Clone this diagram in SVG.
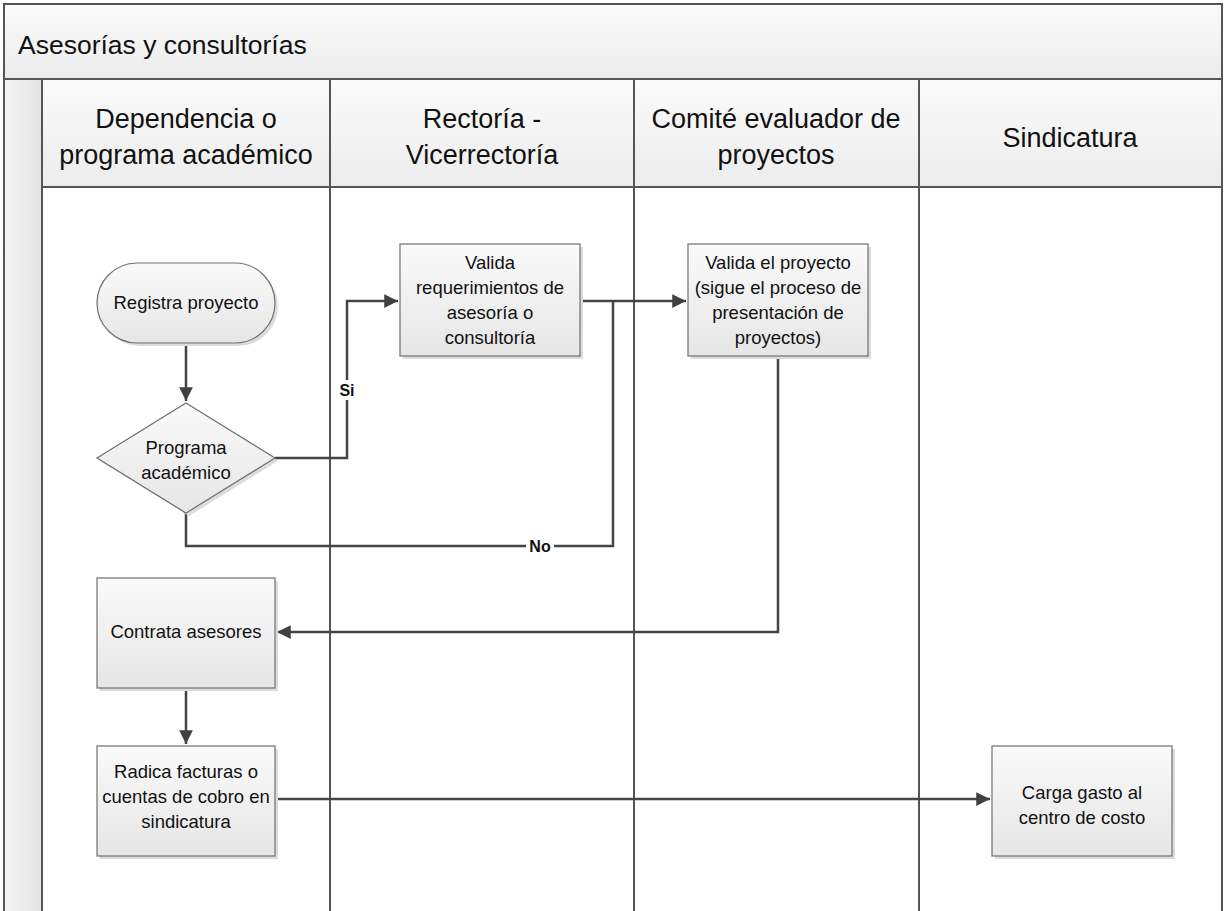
<svg xmlns="http://www.w3.org/2000/svg" width="1226" height="911" viewBox="0 0 1226 911">
<defs>
<linearGradient id="gBox" x1="0" y1="0" x2="0" y2="1"><stop offset="0" stop-color="#fafafa"/><stop offset="1" stop-color="#e6e6e6"/></linearGradient>
<linearGradient id="gHead" x1="0" y1="0" x2="0" y2="1"><stop offset="0" stop-color="#fbfbfb"/><stop offset="1" stop-color="#ececec"/></linearGradient>
<linearGradient id="gStrip" x1="0" y1="0" x2="1" y2="0"><stop offset="0" stop-color="#f4f4f4"/><stop offset="1" stop-color="#e4e4e4"/></linearGradient>
<marker id="arr" viewBox="0 0 10 10" refX="10" refY="5" markerWidth="5.5" markerHeight="5.5" orient="auto" markerUnits="strokeWidth"><path d="M0,0 L10,5 L0,10 z" fill="#404040"/></marker>
</defs>
<style>
.lane{stroke:#555;stroke-width:2;fill:none}
.box{fill:url(#gBox);stroke:#707070;stroke-width:1.2}
.shadow{fill:#dcdcdc}
.t{font-family:"Liberation Sans",Arial,sans-serif;font-size:18.5px;fill:#111;text-anchor:middle}
.h{font-family:"Liberation Sans",Arial,sans-serif;font-size:27px;fill:#111;text-anchor:middle}
.title{font-family:"Liberation Sans",Arial,sans-serif;font-size:26.5px;fill:#111}
.c{fill:none;stroke:#444;stroke-width:2.5}
.lbl{font-family:"Liberation Sans",Arial,sans-serif;font-size:16px;font-weight:bold;fill:#111;text-anchor:middle}
</style>
<rect width="1226" height="911" fill="#fff"/>
<g id="pool">
<rect x="4" y="4" width="1218" height="75" fill="url(#gHead)"/>
<rect x="4" y="79" width="38" height="832" fill="url(#gStrip)"/>
<rect x="42" y="79" width="1180" height="108" fill="url(#gHead)"/>
<text class="title" x="18" y="54">Asesorías y consultorías</text>
<path class="lane" d="M4,911 V4 H1222 V911 M4,79 H1222 M42,187 H1222 M42,79 V911 M330,79 V911 M634,79 V911 M919,79 V911"/>
<text class="h" x="186" y="128">Dependencia o</text>
<text class="h" x="186" y="164">programa académico</text>
<text class="h" x="482" y="128">Rectoría -</text>
<text class="h" x="482" y="164">Vicerrectoría</text>
<text class="h" x="776" y="128">Comité evaluador de</text>
<text class="h" x="776" y="164">proyectos</text>
<text class="h" x="1070" y="147">Sindicatura</text>
</g>
<g id="connectors">
<path class="c" d="M186,343 V401" marker-end="url(#arr)"/>
<path class="c" d="M275,458 H347 V301 H398" marker-end="url(#arr)"/>
<path class="c" d="M580,301 H686" marker-end="url(#arr)"/>
<path class="c" d="M186,513 V546 H613 V301"/>
<path class="c" d="M778,356 V632 H277" marker-end="url(#arr)"/>
<path class="c" d="M186,688 V744" marker-end="url(#arr)"/>
<path class="c" d="M275,799 H990" marker-end="url(#arr)"/>
<rect x="338" y="380" width="18" height="20" fill="#fff"/>
<text class="lbl" x="347" y="396">Si</text>
<rect x="526" y="537" width="28" height="18" fill="#fff"/>
<text class="lbl" x="540" y="552">No</text>
</g>
<g id="n1">
<rect class="shadow" x="100" y="266" width="178" height="80" rx="40"/>
<rect class="box" x="97" y="263" width="178" height="80" rx="40"/>
<text class="t" x="186" y="309">Registra proyecto</text>
</g>
<g id="n2">
<path class="shadow" d="M189,406 L278,461 L189,516 L100,461 z"/>
<path class="box" d="M186,403 L275,458 L186,513 L97,458 z"/>
<text class="t" x="186" y="454">Programa</text>
<text class="t" x="186" y="479">académico</text>
</g>
<g id="n3">
<rect class="shadow" x="403" y="247" width="180" height="112"/>
<rect class="box" x="400" y="244" width="180" height="112"/>
<text class="t" x="490" y="269">Valida</text>
<text class="t" x="490" y="294">requerimientos de</text>
<text class="t" x="490" y="319">asesoría o</text>
<text class="t" x="490" y="344">consultoría</text>
</g>
<g id="n4">
<rect class="shadow" x="691" y="247" width="180" height="112"/>
<rect class="box" x="688" y="244" width="180" height="112"/>
<text class="t" x="778" y="269">Valida el proyecto</text>
<text class="t" x="778" y="294">(sigue el proceso de</text>
<text class="t" x="778" y="319">presentación de</text>
<text class="t" x="778" y="344">proyectos)</text>
</g>
<g id="n5">
<rect class="shadow" x="100" y="581" width="178" height="110"/>
<rect class="box" x="97" y="578" width="178" height="110"/>
<text class="t" x="186" y="638">Contrata asesores</text>
</g>
<g id="n6">
<rect class="shadow" x="100" y="749" width="178" height="110"/>
<rect class="box" x="97" y="746" width="178" height="110"/>
<text class="t" x="186" y="778">Radica facturas o</text>
<text class="t" x="186" y="803">cuentas de cobro en</text>
<text class="t" x="186" y="828">sindicatura</text>
</g>
<g id="n7">
<rect class="shadow" x="995" y="749" width="180" height="110"/>
<rect class="box" x="992" y="746" width="180" height="110"/>
<text class="t" x="1082" y="799">Carga gasto al</text>
<text class="t" x="1082" y="824">centro de costo</text>
</g>
</svg>
